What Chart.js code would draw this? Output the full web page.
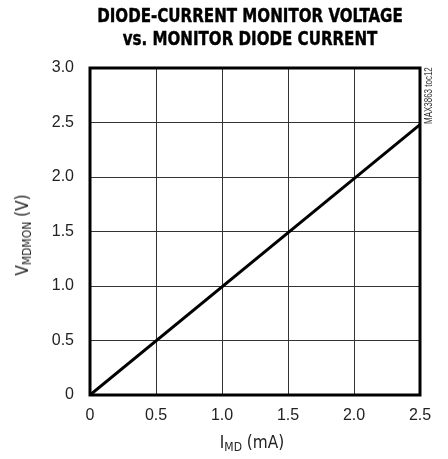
<!DOCTYPE html>
<html><head><meta charset="utf-8">
<script src="https://cdn.jsdelivr.net/npm/chart.js@4/dist/chart.umd.min.js"></script>
<style>
html,body{margin:0;padding:0;background:#fff;}
#wrap{position:relative;width:448px;height:459px;}
#title{position:absolute;left:250px;top:4px;transform:translateX(-50%) scaleX(0.86);text-align:center;font-family:"Liberation Sans Narrow","DejaVu Sans Condensed",sans-serif;font-weight:bold;font-size:19.5px;line-height:23px;color:#000;white-space:nowrap;-webkit-text-stroke:0.4px #000;}
.lab{position:absolute;font-family:"Liberation Sans Narrow","DejaVu Sans Condensed",sans-serif;font-size:17px;color:#222;white-space:nowrap;}
.lab sub{font-size:12px;vertical-align:-3px;}
#xt{left:252px;top:432px;transform:translateX(-50%);}
#yt{left:23px;top:235px;transform:translate(-50%,-50%) rotate(-90deg);}
#side{position:absolute;left:423px;top:124px;transform-origin:0 0;transform:rotate(-90deg) scaleX(0.76);font-family:"Liberation Sans Narrow",sans-serif;font-size:10.5px;line-height:11px;color:#333;white-space:nowrap;}
</style></head>
<body><div id="wrap">
<canvas id="c" width="448" height="459"></canvas>
<div id="title">DIODE-CURRENT MONITOR VOLTAGE<br>vs. MONITOR DIODE CURRENT</div>
<div class="lab" id="xt">I<sub>MD</sub> (mA)</div>
<div class="lab" id="yt">V<sub>MDMON</sub> (V)</div>
<div id="side">MAX3863 toc12</div>
</div>
<script>
const currentMA = [0, 2.5];
const voltageV = [0, 2.48];
const xTicks = [0, 0.5, 1.0, 1.5, 2.0, 2.5];
const yTicks = [0, 0.5, 1.0, 1.5, 2.0, 2.5, 3.0];

const fmt = v => v === 0 ? '0' : Number(v).toFixed(1);
const frame = {
  id: 'frame',
  afterDraw(chart) {
    const a = chart.chartArea, ctx = chart.ctx;
    ctx.save();
    ctx.strokeStyle = '#000';
    ctx.lineWidth = 3;
    ctx.strokeRect(a.left, a.top, a.right - a.left, a.bottom - a.top);
    ctx.restore();
  }
};
new Chart(document.getElementById('c'), {
  type: 'scatter',
  data: {
    datasets: [{
      data: currentMA.map((x, i) => ({x, y: voltageV[i]})),
      showLine: true,
      borderColor: '#000',
      borderWidth: 3,
      pointRadius: 0,
      fill: false
    }]
  },
  options: {
    responsive: false,
    animation: false,
    layout: {padding: {left: 0, top: 68, right: 28, bottom: 0}},
    plugins: {legend: {display: false}, tooltip: {enabled: false}},
    scales: {
      x: {
        type: 'linear', min: 0, max: 2.5,
        afterBuildTicks: s => { s.ticks = xTicks.map(v => ({value: v})); },
        afterFit: s => { s.height = 64; },
        grid: {color: '#333', lineWidth: 1, drawTicks: false},
        border: {display: false},
        ticks: {callback: fmt, color: '#222', padding: 11, maxRotation: 0,
                font: {family: '"Liberation Sans Narrow", sans-serif', size: 16}}
      },
      y: {
        type: 'linear', min: 0, max: 3.0,
        afterBuildTicks: s => { s.ticks = yTicks.map(v => ({value: v})); },
        afterFit: s => { s.width = 90; },
        grid: {color: '#333', lineWidth: 1, drawTicks: false},
        border: {display: false},
        ticks: {callback: fmt, color: '#222', padding: 16,
                font: {family: '"Liberation Sans Narrow", sans-serif', size: 16}}
      }
    }
  },
  plugins: [frame]
});
</script>
</body></html>
